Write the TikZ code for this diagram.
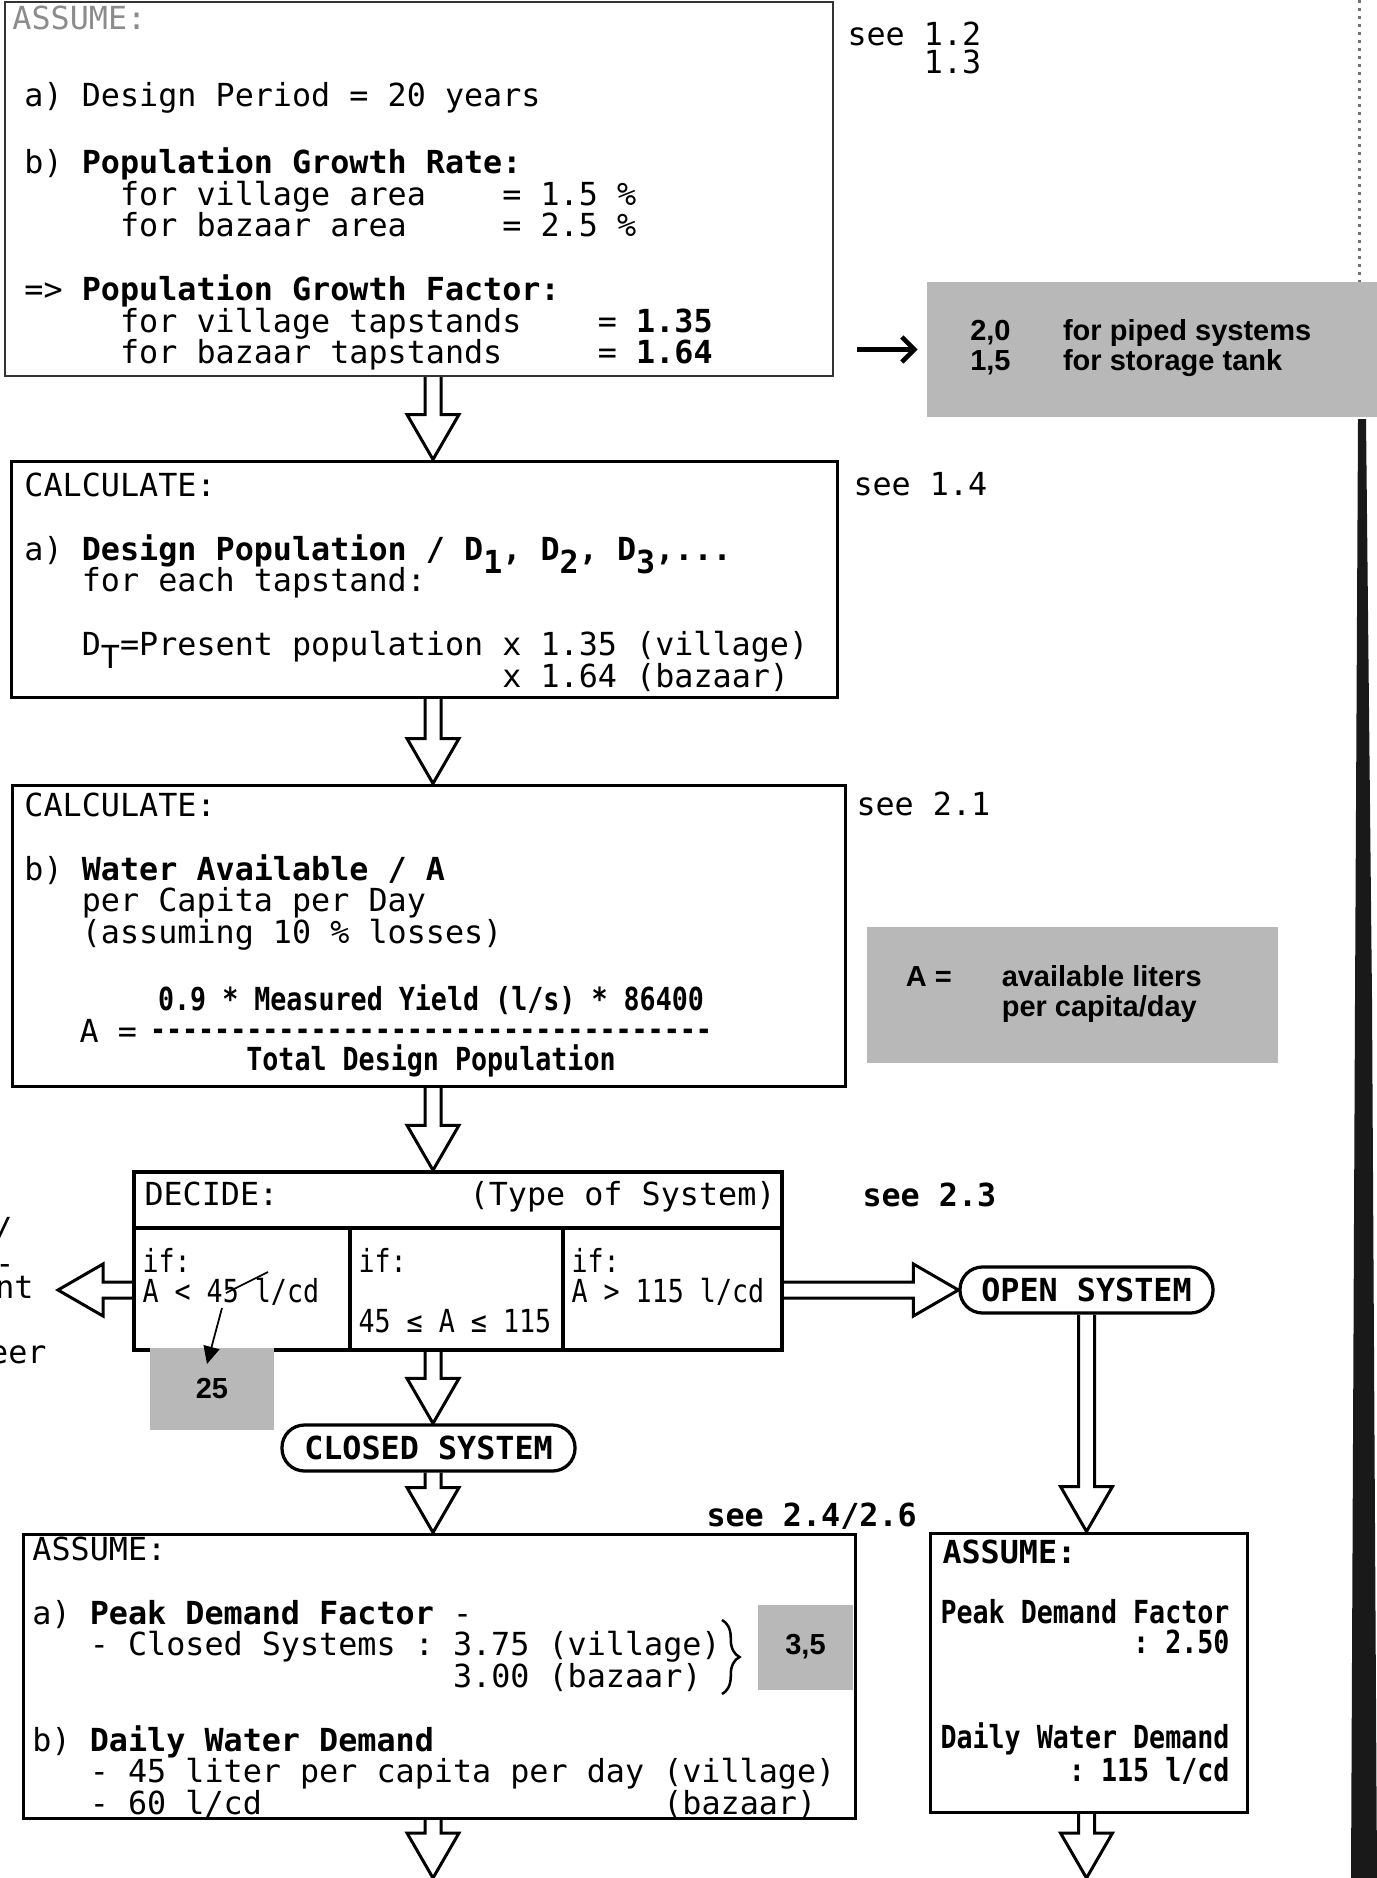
\documentclass[tikz,border=0pt]{standalone}
\usepackage{fontspec}
\usepackage{tikz}
\usetikzlibrary{arrows.meta,calc,fit,decorations.pathreplacing}
\newfontfamily\dotmatrix[WordSpace={1,0,0}]{DejaVu Sans Mono}
\newfontfamily\dotnarrow[WordSpace={1,0,0},FakeStretch=0.84]{DejaVu Sans Mono}
\newfontfamily\photofont{Liberation Sans}
\newcommand{\mono}{\dotmatrix\fontsize{12.7pt}{12.6pt}\selectfont\frenchspacing}
\newcommand{\narrow}{\dotnarrow\fontsize{12.7pt}{12pt}\selectfont\frenchspacing}
\newcommand{\photo}{\photofont\bfseries\fontsize{11.6pt}{12pt}\selectfont}
\newcommand{\skipc}[1]{\hspace*{#1\fontcharwd\font`\0}}
\newcommand{\low}[1]{\smash{\raisebox{-0.42em}{#1}}}
\newcommand{\dashrow}[1]{\foreach \k in {1,...,#1}{-\kern0pt}}
% hollow block arrows
\newcommand{\shw}{3.2pt}
\newcommand{\hhw}{10.4pt}
\newcommand{\hlen}{18pt}
\newcommand{\fatdown}[2]{%
  \draw[fat] let \p1=(#1), \p2=(#2) in
    (\x1-\shw,\y1) -- (\x1-\shw,\y2+\hlen) -- (\x1-\hhw,\y2+\hlen) -- (\x1,\y2)
    -- (\x1+\hhw,\y2+\hlen) -- (\x1+\shw,\y2+\hlen) -- (\x1+\shw,\y1);}
\newcommand{\fatside}[2]{%
  \draw[fat] let \p1=(#1), \p2=(#2), \n1={sign(\x1-\x2)} in
    (\x1,\y1+\shw) -- (\x2+\n1*\hlen,\y1+\shw) -- (\x2+\n1*\hlen,\y1+\hhw) -- (\x2,\y1)
    -- (\x2+\n1*\hlen,\y1-\hhw) -- (\x2+\n1*\hlen,\y1-\shw) -- (\x1,\y1-\shw);}
\tikzset{
  box/.style={draw,line width=1.2pt,inner sep=0pt},
  faintbox/.style={box,line width=0.8pt,draw=black!80},
  decbox/.style={box,line width=1.4pt},
  txt/.style={inner sep=0pt,align=left,font=\mono,anchor=north west},
  lbl/.style={inner sep=0pt,font=\mono,anchor=base west},
  pillbox/.style={draw,line width=1.3pt,rounded corners=9pt,inner sep=0pt,minimum height=18.4pt,font=\mono\bfseries},
  screen/.style={fill=black!28,inner sep=0pt,font=\photo,align=left},
  fat/.style={line width=1.2pt,line join=miter},
  pen/.style={line width=0.7pt},
  thinarr/.style={line width=1.8pt,-{Straight Barb[length=5pt,width=10pt]}}
}

\begin{document}
\begin{tikzpicture}[x=0.4pt,y=-0.4pt]
  \useasboundingbox (0,0) rectangle (1377,1878);
  \coordinate (spine) at (433,0);
  \coordinate (foot) at (0,1878);
  \coordinate (leftend) at (58,0);

  % binding shadow on the right
  \draw[black!55,dotted,line width=1.2pt] (1359,0) -- (1359,282);
  \fill[black!90] (1358,419) -- (1366,419) -- (1372,1000) -- (1377,1878) -- (1351,1878) -- (1355,1000) -- cycle;

  % growth assumptions
  \node[faintbox,fit={(5,2) (833,376)}] (growth) {};
  \node[txt] (growthtxt) at (24,5) {\hspace*{-4.8pt}{\color{black!45}ASSUME:}\\[18.2pt]%
a) Design Period = 20 years\\[13pt]%
b) \textbf{Population Growth Rate:}\\%
\skipc{5}for village area\skipc{4}= 1.5 \%\\%
\skipc{5}for bazaar area\skipc{5}= 2.5 \%\\[13pt]%
=> \textbf{Population Growth Factor:}\\%
\skipc{5}for village tapstands\skipc{4}= \textbf{1.35}\\%
\skipc{5}for bazaar tapstands\skipc{5}= \textbf{1.64}};
  \node[txt] (see12) at (847,21) {see 1.2\\[-1.4pt]\skipc{4}1.3};
  \node[screen,minimum width=180pt,minimum height=54pt] (piped) at (1152,349.5) {\begin{tabular}{@{}l@{\hspace{21pt}}l@{\hspace{9pt}}}2,0 & for piped systems\\1,5 & for storage tank\end{tabular}};
  \draw[thinarr] ([xshift=9pt]growth.east |- piped.west) -- ([xshift=-3.6pt]piped.west);

  % design population
  \node[box,fit={(11,461) (837,697)}] (calc1) {};
  \node[txt] (calc1txt) at (24,472) {CALCULATE:\\[13pt]%
a) \textbf{Design Population / D\low{1}, D\low{2}, D\low{3},...}\\%
\skipc{3}for each tapstand:\\[13pt]%
\skipc{3}D\low{T}=Present population x 1.35 (village)\\%
\skipc{25}x 1.64 (bazaar)};
  \node[lbl] (see14) at (853,495) {see 1.4};

  % water available
  \node[box,fit={(12,785) (845,1086)}] (calc2) {};
  \node[txt] (calc2txt) at (24,792) {CALCULATE:\\[13pt]%
b) \textbf{Water Available / A}\\%
\skipc{3}per Capita per Day\\%
\skipc{3}(assuming 10 \% losses)};
  \node[inner sep=0pt,align=center,font=\narrow\bfseries] (yield) at (431,1031) {0.9 * Measured Yield (l/s) * 86400\\\dashrow{35}\\Total Design Population};
  \node[inner sep=0pt,font=\mono,anchor=east] (aeq) at ([xshift=-4.8pt]yield.west) {A =};
  \node[lbl] (see21) at (856,815) {see 2.1};
  \node[screen,minimum width=164.4pt,minimum height=54.4pt] (avail) at (1072.5,995) {\begin{tabular}{@{}l@{\hspace{20pt}}l@{\hspace{15pt}}}A = & available liters\\ & per capita/day\end{tabular}};

  % decision
  \node[decbox,fit={(134,1172) (782,1228)}] (dhead) {};
  \node[lbl] (dtitle) at (144,1205) {DECIDE:};
  \node[lbl,anchor=base east] (dtype) at (776,1205) {(Type of System)};
  \node[decbox,fit={(134,1228) (350,1350)}] (ifa) {};
  \node[decbox,fit={(350,1228) (563,1350)}] (ifb) {};
  \node[decbox,fit={(563,1228) (782,1350)}] (ifc) {};
  \node[txt,font=\narrow] (ifatxt) at (142,1248) {if:\\A < 45 l/cd};
  \node[txt,font=\narrow] (ifbtxt) at (358,1248) {if:\\[12pt]45 ≤ A ≤ 115};
  \node[txt,font=\narrow] (ifctxt) at (571,1248) {if:\\A > 115 l/cd};
  \node[lbl,font=\mono\bfseries] (see23) at (862,1206) {see 2.3};
  \draw[pen] (226,1293) -- (268,1272);
  \node[screen,minimum width=49.6pt,minimum height=32.8pt] (g25) at (212,1389) {\raisebox{-6.2pt}{25}};
  \coordinate (from45) at (222,1308);
  \coordinate (to25) at (207,1364);
  \draw[pen,-{Triangle[length=7pt,width=6.5pt]}] (from45) -- (to25);

  % cut-off text at the left edge
  \node[lbl,anchor=base east] (frag1) at (13,1240) {/};
  \node[lbl,anchor=base east] (frag2) at (15,1274) {-};
  \node[lbl,anchor=base east] (frag3) at (34,1298) {nt};
  \node[lbl,anchor=base east] (frag4) at (47,1363) {eer};

  % system types
  \node[pillbox,minimum width=117.2pt] (closed) at (428.5,1448) {CLOSED SYSTEM};
  \node[pillbox,minimum width=101.2pt] (open) at (1086.5,1290) {OPEN SYSTEM};

  % closed system demand
  \node[screen,minimum width=38pt,minimum height=34pt] (g35) at (805.5,1647) {3,5};
  \node[box,fit={(23,1534) (855,1818)}] (demand) {};
  \node[txt] (demandtxt) at (32,1536) {ASSUME:\\[13pt]%
a) \textbf{Peak Demand Factor} -\\%
\skipc{3}- Closed Systems : 3.75 (village)\\%
\skipc{22}3.00 (bazaar)\\[13pt]%
b) \textbf{Daily Water Demand}\\%
\skipc{3}- 45 liter per capita per day (village)\\%
\skipc{3}- 60 l/cd\skipc{21}(bazaar)};
  \draw[pen,line width=1pt,decorate,decoration={brace,amplitude=7pt}] (722,1620) -- (722,1694);
  \node[lbl,font=\mono\bfseries] (see246) at (706,1526) {see 2.4/2.6};

  % open system demand
  \node[box,fit={(930,1533) (1247,1812)}] (openassume) {};
  \node[lbl,font=\mono\bfseries] (openhead) at (942,1563) {ASSUME:};
  \node[txt,font=\narrow\bfseries] (opentxt) at (940,1599) {Peak Demand Factor\\%
\skipc{12}: 2.50\\[26pt]%
Daily Water Demand\\%
\skipc{8}: 115 l/cd};

  % block arrows
  \fatdown{spine |- growth.south}{spine |- calc1.north}
  \fatdown{spine |- calc1.south}{spine |- calc2.north}
  \fatdown{spine |- calc2.south}{spine |- dhead.north}
  \fatdown{spine |- ifb.south}{spine |- closed.north}
  \fatdown{spine |- closed.south}{spine |- demand.north}
  \fatdown{spine |- demand.south}{spine |- foot}
  \fatdown{open.south}{open.south |- openassume.north}
  \fatdown{open.south |- openassume.south}{open.south |- foot}
  \fatside{ifc.east |- open.west}{open.west}
  \fatside{ifa.west |- open.west}{leftend |- open.west}
\end{tikzpicture}
\end{document}
